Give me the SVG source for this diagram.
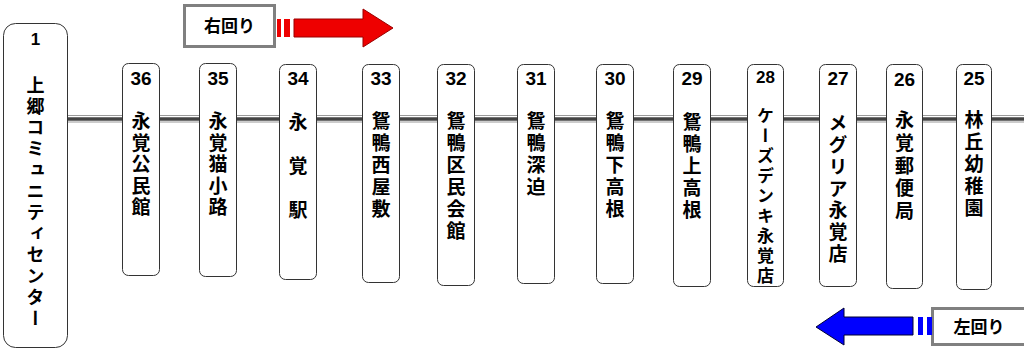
<svg xmlns="http://www.w3.org/2000/svg" width="1024" height="349" viewBox="0 0 1024 349">
<style>
.node{fill:#fff;stroke:#333;stroke-width:1}
.num{font-family:"Liberation Sans",Arial,sans-serif;font-weight:bold;font-size:19px;fill:#000;text-anchor:middle}
.vt{font-family:"Noto Sans CJK JP","Noto Sans CJK SC",sans-serif;font-weight:bold;font-size:19px;fill:#000;writing-mode:vertical-rl;letter-spacing:3px}
.lbl{font-family:"Noto Sans CJK JP","Noto Sans CJK SC",sans-serif;font-weight:bold;font-size:17px;fill:#000;text-anchor:middle}
.box{fill:#fff;stroke:#808080;stroke-width:3}
</style>
<rect width="1024" height="349" fill="#fff"/>
<g id="connectors">
<line x1="68" y1="115.5" x2="1024" y2="115.5" stroke="#999" stroke-width="1"/>
<line x1="68" y1="119" x2="1024" y2="119" stroke="#444" stroke-width="3.5"/>
<line x1="68" y1="122" x2="1024" y2="122" stroke="#999" stroke-width="1"/>
</g>
<g id="dir-right">
<rect class="box" x="184.5" y="5.5" width="90" height="41"/>
<text class="lbl" x="229.5" y="32">右回り</text>
<rect x="277" y="19" width="4" height="18" fill="#e00"/>
<rect x="284" y="19" width="6" height="18" fill="#e00"/>
<polygon points="294,19 363,19 363,9 393,28 363,47 363,37 294,37" fill="#e00" stroke="#900" stroke-width="1"/>
</g>
<g id="dir-left">
<rect class="box" x="932.5" y="308.5" width="100" height="36"/>
<text class="lbl" x="979" y="333">左回り</text>
<rect x="918" y="317" width="5" height="18" fill="#00f"/>
<rect x="927" y="317" width="5" height="18" fill="#00f"/>
<polygon points="913,317 844,317 844,308 816,327 844,345 844,335 913,335" fill="#00f" stroke="#003" stroke-width="1"/>
</g>
<g id="n1"><rect class="node" x="3.5" y="23.5" width="64" height="324" rx="12"/><text class="num" x="35.5" y="45" style="font-size:17px">1</text><text class="vt" x="35.5" y="76" style="font-size:18px;letter-spacing:3.2px">上郷コミュニティセンター</text></g>
<g id="n36"><rect class="node" x="122.5" y="63.5" width="37" height="212" rx="6"/><text class="num" x="141" y="85">36</text><text class="vt" x="141" y="111.5" style="letter-spacing:2.5px">永覚公民館</text></g>
<g id="n35"><rect class="node" x="199.5" y="63.5" width="37" height="213" rx="6"/><text class="num" x="218" y="85">35</text><text class="vt" x="218" y="111.5" style="letter-spacing:2.5px">永覚猫小路</text></g>
<g id="n34"><rect class="node" x="279.5" y="64.5" width="37" height="215" rx="6"/><text class="num" x="298" y="85">34</text><text class="vt" x="298" y="112">永　覚　駅</text></g>
<g id="n33"><rect class="node" x="362.5" y="64.5" width="37" height="218" rx="6"/><text class="num" x="381" y="85">33</text><text class="vt" x="381" y="111.5">鴛鴨西屋敷</text></g>
<g id="n32"><rect class="node" x="437.5" y="64.5" width="37" height="221" rx="6"/><text class="num" x="456" y="85">32</text><text class="vt" x="456" y="111.5">鴛鴨区民会館</text></g>
<g id="n31"><rect class="node" x="517.5" y="64.5" width="37" height="219" rx="6"/><text class="num" x="536" y="85">31</text><text class="vt" x="536" y="111.5">鴛鴨深迫</text></g>
<g id="n30"><rect class="node" x="596.5" y="64.5" width="37" height="219" rx="6"/><text class="num" x="615" y="85">30</text><text class="vt" x="615" y="111.5">鴛鴨下高根</text></g>
<g id="n29"><rect class="node" x="673.5" y="64.5" width="37" height="222" rx="6"/><text class="num" x="692" y="85">29</text><text class="vt" x="692" y="112.5">鴛鴨上高根</text></g>
<g id="n28"><rect class="node" x="747.5" y="64.5" width="36" height="222" rx="6"/><text class="num" x="765.5" y="83" style="font-size:17px">28</text><text class="vt" x="765.5" y="107.5" style="font-size:17px;letter-spacing:3px">ケーズデンキ永覚店</text></g>
<g id="n27"><rect class="node" x="819.5" y="64.5" width="37" height="222" rx="6"/><text class="num" x="838" y="85">27</text><text class="vt" x="838" y="113.5" style="letter-spacing:2.8px">メグリア永覚店</text></g>
<g id="n26"><rect class="node" x="886.5" y="64.5" width="36" height="224" rx="6"/><text class="num" x="904.5" y="86">26</text><text class="vt" x="904.5" y="110.5" style="letter-spacing:3.7px">永覚郵便局</text></g>
<g id="n25"><rect class="node" x="956.5" y="64.5" width="35" height="225" rx="6"/><text class="num" x="974" y="85">25</text><text class="vt" x="974" y="110.5">林丘幼稚園</text></g>
</svg>
